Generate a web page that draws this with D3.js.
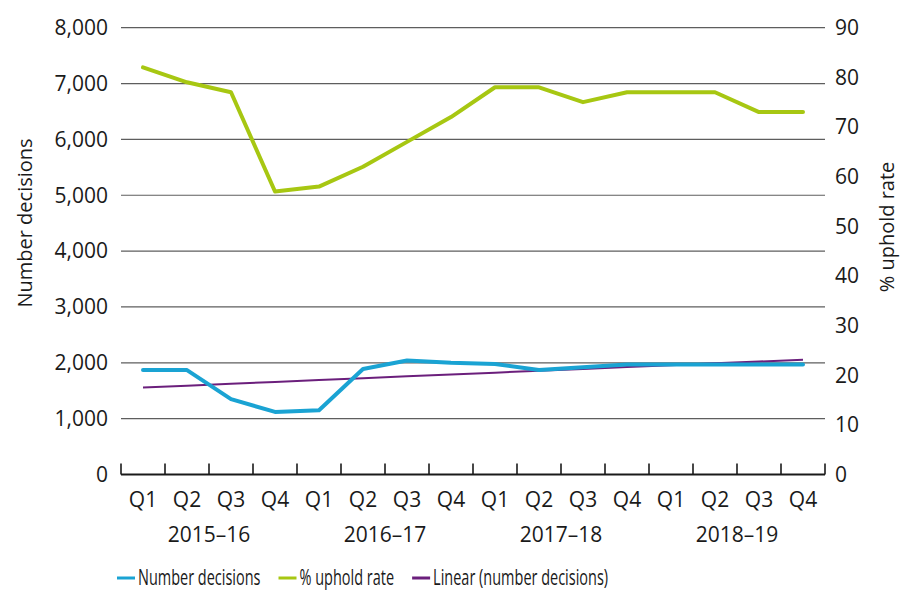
<!DOCTYPE html>
<html>
<head>
<meta charset="utf-8">
<script src="https://cdn.jsdelivr.net/npm/d3@7"></script>
<style>
    body { margin: 0; background: #fff; }
    svg text { font-family: "Open Sans", sans-serif; fill: #1a1a1a; }
</style>
</head>
<body>
<svg id="chart" width="912" height="597"></svg>
<script>
// quarters and financial years
const quarters = ["Q1", "Q2", "Q3", "Q4", "Q1", "Q2", "Q3", "Q4",
    "Q1", "Q2", "Q3", "Q4", "Q1", "Q2", "Q3", "Q4"];
const years = ["2015–16", "2016–17", "2017–18", "2018–19"];

// number of decisions (left axis)
const decisions = [1870, 1870, 1350, 1120, 1150, 1890, 2040, 2000,
    1980, 1870, 1920, 1970, 1970, 1970, 1970, 1970];
// % uphold rate (right axis)
const upholdRate = [82, 79, 77, 57, 58, 62, 67, 72,
    78, 78, 75, 77, 77, 77, 73, 73];

const leftTicks = [0, 1000, 2000, 3000, 4000, 5000, 6000, 7000, 8000];
const rightTicks = [0, 10, 20, 30, 40, 50, 60, 70, 80, 90];

const BLUE = "#1aa3d3",
    GREEN = "#a7c712",
    PURPLE = "#6b1f7c";

var svg = d3.select("#chart"),
    margin = { top: 27.7, left: 121, right: 87, bottom: 122.5 },
    width = 912 - margin.left - margin.right,
    height = 597 - margin.top - margin.bottom;

var g = svg.append("g")
    .attr("transform", "translate(" + margin.left + "," + margin.top + ")");

var idx = d3.range(quarters.length);

var x = d3.scaleBand()
    .domain(idx)
    .range([0, width]);

var yLeft = d3.scaleLinear().domain([0, 8000]).range([height, 0]);
var yRight = d3.scaleLinear().domain([0, 90]).range([height, 0]);

// gridlines
g.append("g")
    .selectAll("line")
    .data(leftTicks.filter(d => d > 0))
    .enter()
    .append("line")
    .attr("x1", 0)
    .attr("x2", width)
    .attr("y1", d => yLeft(d))
    .attr("y2", d => yLeft(d))
    .attr("stroke", "#5e5e5e")
    .attr("stroke-width", 1.2);

// left tick labels
g.append("g")
    .selectAll("text")
    .data(leftTicks)
    .enter()
    .append("text")
    .attr("x", -13)
    .attr("y", d => yLeft(d))
    .attr("dy", "0.35em")
    .attr("text-anchor", "end")
    .style("font-size", "21px")
    .text(d3.format(","));

// right tick labels
g.append("g")
    .selectAll("text")
    .data(rightTicks)
    .enter()
    .append("text")
    .attr("x", width + 10)
    .attr("y", d => yRight(d))
    .attr("dy", "0.35em")
    .style("font-size", "21px")
    .text(d => d);

// x axis baseline and ticks
g.append("line")
    .attr("x1", 0).attr("x2", width)
    .attr("y1", height).attr("y2", height)
    .attr("stroke", "#1a1a1a")
    .attr("stroke-width", 2);

g.append("g")
    .selectAll("line")
    .data(d3.range(quarters.length + 1))
    .enter()
    .append("line")
    .attr("x1", d => d * x.step())
    .attr("x2", d => d * x.step())
    .attr("y1", height)
    .attr("y2", height - 11)
    .attr("stroke", "#1a1a1a")
    .attr("stroke-width", 1.6);

g.append("g")
    .selectAll("text")
    .data(quarters)
    .enter()
    .append("text")
    .attr("x", (d, i) => x(i) + x.bandwidth() / 2)
    .attr("y", height + 33)
    .attr("text-anchor", "middle")
    .style("font-size", "21px")
    .text(d => d);

g.append("g")
    .selectAll("text")
    .data(years)
    .enter()
    .append("text")
    .attr("x", (d, i) => (i * 4 + 2) * x.step())
    .attr("y", height + 68)
    .attr("text-anchor", "middle")
    .style("font-size", "21px")
    .text(d => d);

// axis titles
svg.append("text")
    .attr("transform", "translate(32,223) rotate(-90)")
    .attr("text-anchor", "middle")
    .style("font-size", "20px")
    .text("Number decisions");

svg.append("text")
    .attr("transform", "translate(894,227) rotate(-90)")
    .attr("text-anchor", "middle")
    .style("font-size", "20px")
    .text("% uphold rate");

// linear trend of number decisions (least squares, like Excel's trendline)
var xm = d3.mean(idx), ym = d3.mean(decisions);
var slope = d3.sum(idx, i => (i - xm) * (decisions[i] - ym)) /
    d3.sum(idx, i => (i - xm) * (i - xm));
var intercept = ym - slope * xm;
var trend = idx.map(i => intercept + slope * i);

var cx = i => x(i) + x.bandwidth() / 2;

g.append("path")
    .datum(idx)
    .attr("fill", "none")
    .attr("stroke", PURPLE)
    .attr("stroke-width", 2)
    .attr("d", d3.line().x(cx).y(i => yLeft(trend[i])));

g.append("path")
    .datum(idx)
    .attr("fill", "none")
    .attr("stroke", GREEN)
    .attr("stroke-width", 4)
    .attr("stroke-linejoin", "round")
    .attr("stroke-linecap", "round")
    .attr("d", d3.line().x(cx).y(i => yRight(upholdRate[i])));

g.append("path")
    .datum(idx)
    .attr("fill", "none")
    .attr("stroke", BLUE)
    .attr("stroke-width", 4)
    .attr("stroke-linejoin", "round")
    .attr("stroke-linecap", "round")
    .attr("d", d3.line().x(cx).y(i => yLeft(decisions[i])));

// legend
var legendItems = [
    { name: "Number decisions", color: BLUE },
    { name: "% uphold rate", color: GREEN },
    { name: "Linear (number decisions)", color: PURPLE }
];
var legend = svg.append("g").attr("transform", "translate(117,578)");
var lx = 0;
legendItems.forEach(function(item) {
    var it = legend.append("g").attr("transform", "translate(" + lx + ",0)");
    it.append("line")
        .attr("x1", 0).attr("x2", 18)
        .attr("y1", 0).attr("y2", 0)
        .attr("stroke", item.color)
        .attr("stroke-width", 3);
    var t = it.append("text")
        .attr("transform", "translate(21,0) scale(0.69,1)")
        .attr("dy", "0.35em")
        .style("font-size", "21px")
        .text(item.name);
    lx += 21 + t.node().getComputedTextLength() * 0.69 + 18;
});
</script>
</body>
</html>
